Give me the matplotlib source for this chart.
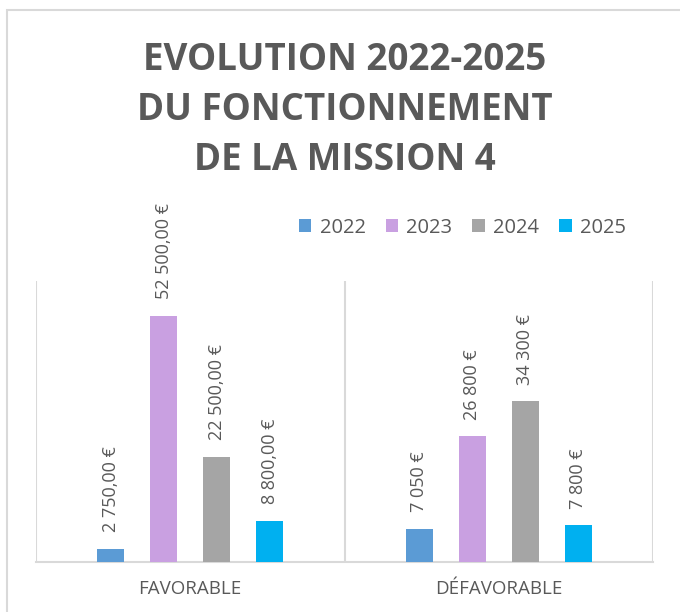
import matplotlib
matplotlib.use("Agg")
import matplotlib.pyplot as plt
from matplotlib.patches import Rectangle, Patch
import numpy as np

categories = ["FAVORABLE", "DÉFAVORABLE"]
years = ["2022", "2023", "2024", "2025"]
values_2022 = [2750, 7050]
values_2023 = [52500, 26800]
values_2024 = [22500, 34300]
values_2025 = [8800, 7800]
labels_2022 = ["2 750,00 €", "7 050 €"]
labels_2023 = ["52 500,00 €", "26 800 €"]
labels_2024 = ["22 500,00 €", "34 300 €"]
labels_2025 = ["8 800,00 €", "7 800 €"]
title = "EVOLUTION 2022-2025\nDU FONCTIONNEMENT\nDE LA MISSION 4"

series = [values_2022, values_2023, values_2024, values_2025]
series_labels = [labels_2022, labels_2023, labels_2024, labels_2025]
colors = ["#5B9BD5", "#C9A0E1", "#A5A5A5", "#00B0F0"]
text_gray = "#595959"
line_gray = "#D9D9D9"

plt.rcParams['font.family'] = ['Open Sans', 'DejaVu Sans']

fig = plt.figure(figsize=(6.8, 6.12), dpi=100)
fig.patch.set_facecolor("white")

# outer chart border
fig.patches.append(Rectangle((7/680, -0.2), 1.2, 1.2 - 10/612,
                             transform=fig.transFigure, fill=False,
                             edgecolor=line_gray, linewidth=1.5))

ax = fig.add_axes([36/680, 1-562/612, 617/680, 281/612])
x = np.arange(len(categories))
width = 0.0875
step = 0.172
for i, (vals, labs, c) in enumerate(zip(series, series_labels, colors)):
    pos = x + (i - 1.5) * step
    bars = ax.bar(pos, vals, width=width, color=c, label=years[i], zorder=3)
    for b, lab in zip(bars, labs):
        ax.annotate(lab, (b.get_x() + b.get_width()/2, b.get_height()),
                    xytext=(0, 12), textcoords="offset points",
                    rotation=90, ha="center", va="bottom",
                    fontsize=13, color=text_gray)

ax.set_xlim(-0.5, 1.5)
ax.set_ylim(0, 60000)
ax.set_yticks([])
for s in ["top", "right", "left"]:
    ax.spines[s].set_visible(False)
ax.spines["bottom"].set_color(line_gray)
ax.spines["bottom"].set_linewidth(1.5)
ax.vlines([-0.5, 0.5, 1.5], 0, 60000, colors=line_gray, linewidth=1.5, zorder=1)
ax.set_xticks(x)
ax.set_xticklabels(categories, fontsize=13.5, color=text_gray)
ax.tick_params(axis="x", length=0, pad=13)

handles = [Patch(facecolor=c, edgecolor="none") for c in colors]
fig.legend(handles, years, loc="center left", bbox_to_anchor=(299/680, 1-228/612),
           ncol=4, frameon=False, fontsize=14.5, handlelength=0.62, handleheight=0.62,
           handletextpad=0.4, columnspacing=1.0, borderpad=0, borderaxespad=0,
           labelcolor=text_gray)

fig.text(345/680, 1-110/612, title, ha="center", va="center", fontsize=26.5,
         fontweight="bold", color=text_gray, linespacing=1.4)

fig.savefig("out.png", dpi=100)
